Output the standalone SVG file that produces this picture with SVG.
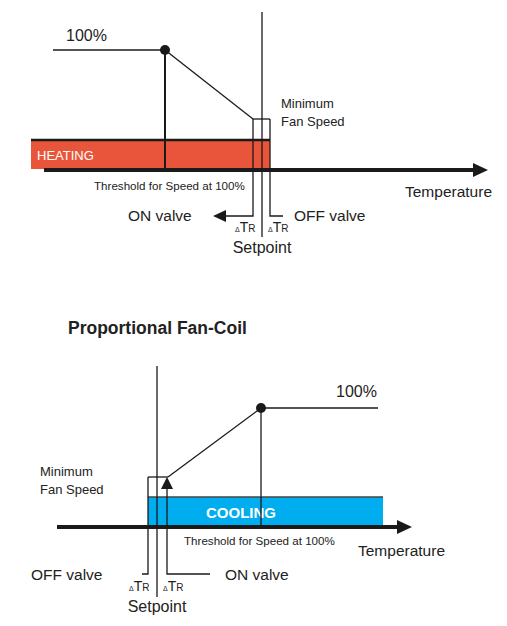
<svg xmlns="http://www.w3.org/2000/svg" width="507" height="626" viewBox="0 0 507 626">
<style>
text{font-family:"Liberation Sans",Arial,sans-serif;fill:#222}
.l{stroke:#1a1a1a;stroke-width:1.3;fill:none}
.t{stroke:#1a1a1a;stroke-width:2;fill:none}
.ax{stroke:#1a1a1a;stroke-width:4;fill:none}
.hd{fill:#1a1a1a}
.s16{font-size:16px}
.s15{font-size:15.5px}
.s13{font-size:13px}
.s11{font-size:11.6px}
</style>

<g id="heating">
<rect x="31" y="140" width="239" height="29" fill="#E9553B"/>
<line x1="31" y1="140" x2="270" y2="140" stroke="#1a1a1a" stroke-width="2.5"/>
<text x="37" y="160" font-size="13" style="fill:#fff">HEATING</text>
</g>
<g id="connectors-top">
<line class="ax" x1="44" y1="170" x2="475" y2="170"/>
<polygon class="hd" points="473,163 488,170 473,177"/>
<line class="l" x1="53" y1="50" x2="165" y2="50"/>
<line class="t" x1="165" y1="50" x2="165" y2="169"/>
<line class="l" x1="165" y1="50" x2="253" y2="119"/>
<line class="l" x1="262" y1="12" x2="262" y2="237"/>
<path class="l" d="M253,119H270"/>
<path class="l" d="M253,119V216H224" stroke-width="1.6"/>
<polygon class="hd" points="226,210 213,216 226,222"/>
<path class="l" d="M270,119V216H283"/>
<circle cx="165" cy="50" r="5" fill="#1a1a1a"/>
</g>
<g id="labels-top">
<text class="s16" x="66" y="41">100%</text>
<text class="s13" x="281" y="108">Minimum</text>
<text class="s13" x="281" y="126">Fan Speed</text>
<text class="s15" x="405" y="197">Temperature</text>
<text class="s11" x="94" y="190">Threshold for Speed at 100%</text>
<text class="s15" x="128" y="221">ON valve</text>
<text class="s15" x="294" y="221">OFF valve</text>
<text x="235" y="232"><tspan font-size="7">Δ</tspan><tspan font-size="14">T</tspan><tspan font-size="10">R</tspan></text>
<text x="268" y="232"><tspan font-size="7">Δ</tspan><tspan font-size="14">T</tspan><tspan font-size="10">R</tspan></text>
<text class="s16" x="262" y="253" text-anchor="middle">Setpoint</text>
</g>

<text x="68" y="334" font-size="17.5" font-weight="bold" style="fill:#222">Proportional Fan-Coil</text>

<g id="cooling">
<rect x="148" y="497" width="235" height="28" fill="#00AEEF"/>
<line x1="148" y1="497" x2="383" y2="497" stroke="#444" stroke-width="1.5"/>
<text x="206" y="518" font-size="15" font-weight="bold" style="fill:#fff">COOLING</text>
</g>
<g id="connectors-bottom">
<line class="ax" x1="57" y1="527" x2="399" y2="527"/>
<polygon class="hd" points="397,520 412,527 397,534"/>
<line class="l" x1="261" y1="408" x2="378" y2="408"/>
<line class="l" x1="261" y1="408" x2="261" y2="525"/>
<line class="l" x1="261" y1="408" x2="168" y2="477"/>
<line class="l" x1="157" y1="366" x2="157" y2="597"/>
<path class="l" d="M148,477H168"/>
<path class="l" d="M148,477V574H142"/>
<path class="l" d="M210,574H167V487" stroke-width="1.6"/>
<polygon class="hd" points="161,489 167,477 173,489"/>
<circle cx="261" cy="408" r="5" fill="#1a1a1a"/>
</g>
<g id="labels-bottom">
<text class="s16" x="336" y="397">100%</text>
<text class="s13" x="40" y="476">Minimum</text>
<text class="s13" x="40" y="494">Fan Speed</text>
<text class="s11" x="184" y="545">Threshold for Speed at 100%</text>
<text class="s15" x="358" y="556">Temperature</text>
<text class="s15" x="31" y="580">OFF valve</text>
<text class="s15" x="225" y="580">ON valve</text>
<text x="129" y="591"><tspan font-size="7">Δ</tspan><tspan font-size="14">T</tspan><tspan font-size="10">R</tspan></text>
<text x="163" y="591"><tspan font-size="7">Δ</tspan><tspan font-size="14">T</tspan><tspan font-size="10">R</tspan></text>
<text class="s16" x="157" y="612" text-anchor="middle">Setpoint</text>
</g>
</svg>
